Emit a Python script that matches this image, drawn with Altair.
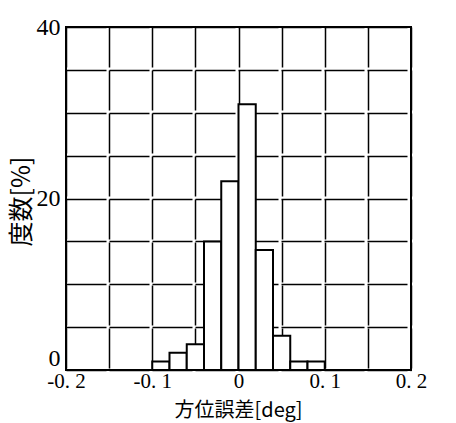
import altair as alt
import pandas as pd

# Histogram of azimuth error: bin edges [deg] and frequency [%]
bin_start = [-0.10, -0.08, -0.06, -0.04, -0.02, 0.00, 0.02, 0.04, 0.06, 0.08]
bin_end = [-0.08, -0.06, -0.04, -0.02, 0.00, 0.02, 0.04, 0.06, 0.08, 0.10]
freq_pct = [1, 2, 3, 15, 22, 31, 14, 4, 1, 1]

# Axis grid positions (labels only on every other line)
x_grid = [-0.2, -0.15, -0.1, -0.05, 0.0, 0.05, 0.1, 0.15, 0.2]
y_grid = [0, 5, 10, 15, 20, 25, 30, 35, 40]

df = pd.DataFrame({"start": bin_start, "end": bin_end, "pct": freq_pct})

num_font = "Liberation Serif"
jp_font = "Noto Sans CJK JP"

x_axis = alt.Axis(
    values=x_grid,
    title="方位誤差[deg]",
    labelExpr=(
        "abs(round(datum.value * 20)) % 2 === 0 ? "
        "(datum.value === 0 ? '0' : replace(replace(format(datum.value, '.1f'), '\u2212', '-'), '.', '. ')) : ''"
    ),
    grid=True,
    gridColor="black",
    gridWidth=1.5,
    gridDash=[40, 3],
    ticks=False,
    domain=False,
    labelFont=num_font,
    labelFontSize=21,
    labelColor="black",
    labelPadding=0,
    labelFlush=False,
    titleFont=jp_font,
    titleFontSize=20,
    titleFontWeight="normal",
    titleColor="black",
    titleBaseline="middle",
    titleX=172,
    titleY=40.5,
)

y_axis = alt.Axis(
    values=y_grid,
    title="度数[%]",
    labelExpr="datum.value % 20 === 0 ? datum.label : ''",
    grid=True,
    gridColor="black",
    gridWidth=1.5,
    gridDash=[40, 3],
    ticks=False,
    domain=False,
    labelFont=num_font,
    labelFontSize=24,
    labelColor="black",
    labelPadding=6,
    labelFlush=False,
    labelBaseline={"condition": {"test": "datum.value === 0", "value": "bottom"}, "value": "middle"},
    titleFont=jp_font,
    titleFontSize=25,
    titleFontWeight="normal",
    titleColor="black",
    titleBaseline="middle",
    titleAngle=-90,
    titleX=-45,
    titleY=174,
)

chart = (
    alt.Chart(df)
    .mark_bar(fill="white", stroke="black", strokeWidth=2)
    .encode(
        x=alt.X("start:Q", scale=alt.Scale(domain=[-0.2, 0.2], nice=False), axis=x_axis),
        x2="end:Q",
        y=alt.Y("pct:Q", scale=alt.Scale(domain=[0, 40], nice=False), axis=y_axis),
        y2=alt.datum(0),
    )
    .properties(
        width=345,
        height=343,
        autosize=alt.AutoSizeParams(type="none"),
        padding={"left": 66, "top": 27, "right": 45, "bottom": 53},
        background="white",
    )
    .configure_view(stroke="black", strokeWidth=2)
)

chart.save("out.html", embed_options={"renderer": "svg", "actions": False})
